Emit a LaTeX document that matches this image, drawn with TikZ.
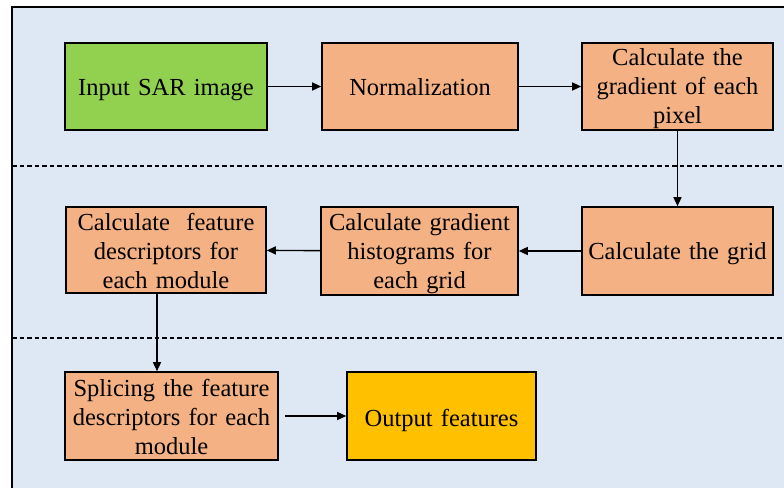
\documentclass[tikz,border=0pt]{standalone}
\usepackage{fontspec}
\setmainfont{Liberation Serif}
\usetikzlibrary{arrows.meta}
\definecolor{bgblue}{HTML}{DEE8F4}
\definecolor{salmon}{HTML}{F4B183}
\definecolor{grn}{HTML}{92D050}
\definecolor{orng}{HTML}{FFC000}
\tikzset{
  box/.style={draw=black, line width=1.6pt, fill=salmon, inner sep=0pt},
  txt/.style={align=center, inner sep=0pt, anchor=base, text width=#1,
    font=\fontsize{24.5}{29}\selectfont},
  conn/.style={line width=1.4pt, -{Triangle[length=9pt,width=8pt]}},
  sep/.style={line width=1.3pt, dash pattern=on 4.5pt off 3pt}
}
\begin{document}
\begin{tikzpicture}[x=1pt,y=-1pt]
\useasboundingbox (0,0) rectangle (784,488);
\fill[white] (0,0) rectangle (784,488);
\fill[bgblue] (12,7) rectangle (784,488);
\draw[line width=1.6pt] (12,488) -- (12,7) -- (784,7);
\draw[sep] (12,166) -- (784,166);
\draw[sep] (12,338) -- (784,338);

\node[box, fill=grn, minimum width=202pt, minimum height=87pt] (in) at (166,86.5) {};
\node[box, minimum width=196pt, minimum height=87pt] (norm) at (420,86.5) {};
\node[box, minimum width=191pt, minimum height=87pt] (grad) at (677.5,86.5) {};
\node[box, minimum width=191pt, minimum height=88pt] (grid) at (677.5,251) {};
\node[box, minimum width=197pt, minimum height=88pt] (hist) at (419.5,251) {};
\node[box, minimum width=200pt, minimum height=86pt] (feat) at (166,250) {};
\node[box, minimum width=213pt, minimum height=88pt] (splice) at (171.5,416) {};
\node[box, fill=orng, minimum width=189pt, minimum height=88pt] (out) at (441.5,416) {};

\node[txt=196pt] (in-t) at (166,95.7) {Input SAR image};
\node[txt=190pt] (norm-t) at (420,95) {Normalization};
\node[txt=188pt] (grad-t) at (677.5,65.7) {Calculate the\\gradient of each\\pixel};
\node[txt=188pt] (grid-t) at (677.5,259.3) {Calculate the grid};
\node[txt=194pt] (hist-t) at (419.5,230.5) {Calculate gradient\\histograms for\\each grid};
\node[txt=196pt] (feat-t) at (166,230) {Calculate~ feature\\descriptors for\\each module};
\node[txt=208pt] (splice-t) at (171.5,396.7) {Splicing the feature\\descriptors for each\\module};
\node[txt=185pt] (out-t) at (441.5,426.7) {Output features};

\coordinate (vx) at (157,0);
\draw[conn] (in) -- (norm);
\draw[conn] (norm) -- (grad);
\draw[conn] (grad) -- (grid);
\draw[conn] (grid) -- (hist);
\draw[conn] (hist) -- (feat);
\draw[conn] (feat.south -| vx) -- (splice.north -| vx);
\draw[conn, shorten <=6pt] (splice) -- (out);
\end{tikzpicture}
\end{document}
